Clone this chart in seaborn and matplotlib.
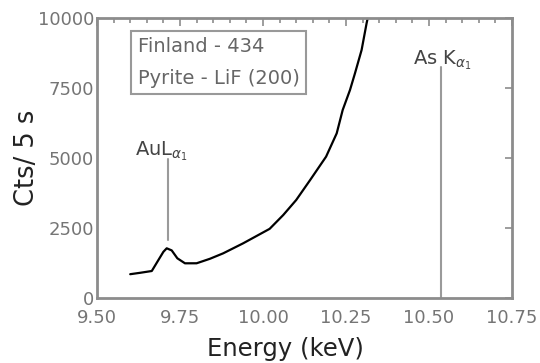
import matplotlib
matplotlib.use("Agg")
import matplotlib.pyplot as plt
from matplotlib.ticker import MultipleLocator
import seaborn as sns
import pandas as pd

energy = [9.600, 9.630, 9.665, 9.685, 9.700, 9.710, 9.725, 9.742, 9.765, 9.800,
          9.840, 9.880, 9.940, 10.020, 10.061, 10.100, 10.142, 10.190, 10.222,
          10.240, 10.262, 10.277, 10.297, 10.312, 10.330]
counts = [850, 900, 964, 1357, 1650, 1775, 1700, 1418, 1239, 1240,
          1400, 1595, 1952, 2470, 2964, 3500, 4214, 5048, 5881,
          6714, 7428, 8024, 8857, 9810, 10800]

x_ticks = [9.50, 9.75, 10.00, 10.25, 10.50, 10.75]
x_tick_labels = ["9.50", "9.75", "10.00", "10.25", "10.50", "10.75"]
y_ticks = [0, 2500, 5000, 7500, 10000]
y_tick_labels = ["0", "2500", "5000", "7500", "10000"]

legend_lines = ["Finland - 434", "Pyrite - LiF (200)"]
au_label = r"AuL$_{\alpha_1}$"
au_energy = 9.714
au_range = [2071, 4950]
as_label = r"As K$_{\alpha_1}$"
as_energy = 10.535
as_range = [0, 8250]

sns.set_style("white")
plt.rcParams["font.family"] = ["DejaVu Sans"]

gray = "#8c8c8c"
tickgray = "#757575"

fig = plt.figure(figsize=(5.4, 3.63), dpi=100)
ax = fig.add_axes([97 / 540, 65 / 363, 415 / 540, 280 / 363])

df = pd.DataFrame({"Energy": energy, "Counts": counts})
sns.lineplot(data=df, x="Energy", y="Counts", ax=ax, color="black",
             linewidth=1.6, sort=False)

ax.plot([au_energy, au_energy], au_range, color="#9a9a9a", linewidth=1.5)
ax.plot([as_energy, as_energy], as_range, color="#9a9a9a", linewidth=1.5)

ax.text(9.614, 5100, au_label, fontsize=14, color="#444444",
        ha="left", va="baseline")
ax.text(10.452, 8350, as_label, fontsize=14, color="#444444",
        ha="left", va="baseline")

ax.set_xlim(9.50, 10.75)
ax.set_ylim(0, 10000)
ax.set_xticks(x_ticks)
ax.set_xticklabels(x_tick_labels)
ax.set_yticks(y_ticks)
ax.set_yticklabels(y_tick_labels)
ax.xaxis.set_minor_locator(MultipleLocator(0.05))

for s in ax.spines.values():
    s.set_visible(True)
    s.set_color(gray)
    s.set_linewidth(2.0)

ax.tick_params(axis="both", which="both", direction="in", top=True, right=True,
               color=gray, width=1.2, labelcolor=tickgray, labelsize=13)
ax.tick_params(axis="x", which="major", length=6, pad=8)
ax.tick_params(axis="x", which="minor", length=3.5)
ax.tick_params(axis="y", which="major", length=5, pad=2)

ax.set_xlabel("Energy (keV)", fontsize=17.5, color="#222222")
ax.set_ylabel("Cts/ 5 s", fontsize=18.5, color="#222222")
ax.xaxis.set_label_coords(0.455, -0.138)
ax.yaxis.set_label_coords(-0.137, 0.5)

ax.text(0.098, 0.841, legend_lines[0] + "\n" + legend_lines[1],
        transform=ax.transAxes, fontsize=14, color="#666666",
        ha="left", va="center", linespacing=1.85,
        bbox=dict(boxstyle="square,pad=0.32", facecolor="white",
                  edgecolor="#999999", linewidth=1.5))

fig.savefig("out.png", dpi=100)
